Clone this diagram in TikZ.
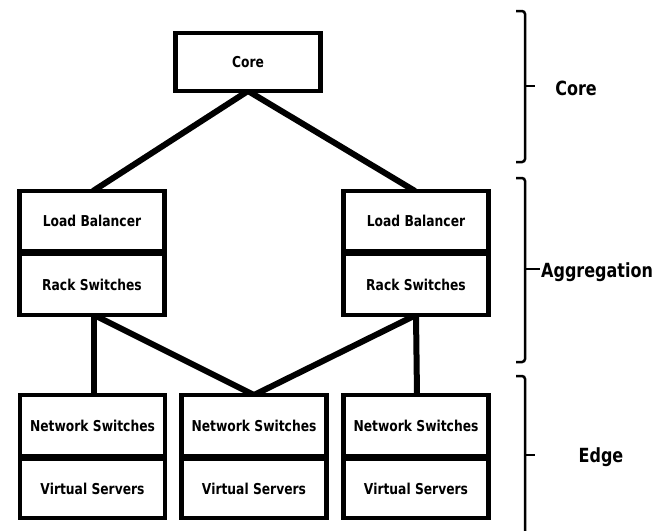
\documentclass[tikz,border=0pt]{standalone}
\usepackage{fontspec}
\setmainfont{DejaVu Sans}[FakeStretch=0.82]
\usetikzlibrary{backgrounds}
\begin{document}
\begin{tikzpicture}[x=1pt,y=-1pt,
  box/.style={draw=black, line width=4.5pt, fill=white, rectangle,
    minimum width=145pt, inner sep=0pt, outer sep=0pt,
    text height=11pt, text depth=0pt,
    font=\fontsize{15}{17}\selectfont\bfseries},
  link/.style={line width=6pt, draw=black},
  brace/.style={line width=2.5pt, draw=black, rounded corners=3pt},
  tier/.style={font=\fontsize{19.5}{22}\selectfont\bfseries, inner sep=0pt}]
\useasboundingbox (0,0) rectangle (669,530);

% core tier
\node[box, minimum height=58pt] (core) at (248,62) {Core};

% aggregation tier
\node[box, minimum height=60pt] (lb1) at (92,221) {Load Balancer};
\node[box, minimum height=61pt] (rs1) at (92,284.5) {Rack Switches};
\node[box, minimum height=60pt] (lb2) at (416,221) {Load Balancer};
\node[box, minimum height=61pt] (rs2) at (416,284.5) {Rack Switches};

% edge tier
\node[box, minimum height=61pt] (ns1) at (92.5,425.5) {Network Switches};
\node[box, minimum height=59pt] (vs1) at (92.5,488.5) {Virtual Servers};
\node[box, minimum height=61pt] (ns2) at (254,425.5) {Network Switches};
\node[box, minimum height=59pt] (vs2) at (254,488.5) {Virtual Servers};
\node[box, minimum height=61pt] (ns3) at (416,425.5) {Network Switches};
\node[box, minimum height=59pt] (vs3) at (416,488.5) {Virtual Servers};

% links between tiers
\begin{scope}[on background layer]
  \draw[link] (core.south) -- ([xshift=1pt]lb1.north);
  \draw[link] (core.south) -- ([xshift=-1pt]lb2.north);
  \draw[link] ([xshift=2pt]rs1.south) -- ([xshift=1.5pt]ns1.north);
  \draw[link] ([xshift=2pt]rs1.south) -- (ns2.north);
  \draw[link] (rs2.south) -- (ns2.north);
  \draw[link] (rs2.south) -- ([xshift=1pt]ns3.north);
\end{scope}

% tier braces
\coordinate (cb) at (525,86);
\draw[brace] (516,11) -- (525,11) -- (525,162) -- (516,162);
\draw[brace, rounded corners=0pt] (cb) -- (535,86);
\node[tier, anchor=base] (lcore) at (576,95) {Core};

\coordinate (ab) at (525,269);
\draw[brace] (516,178) -- (525,178) -- (525,362) -- (516,362);
\draw[brace, rounded corners=0pt] (ab) -- (540,269);
\node[tier, anchor=base west] (lagg) at (541,277) {Aggregation};

\coordinate (eb) at (525,455);
\draw[brace] (516,376) -- (525,376) -- (525,535);
\draw[brace, rounded corners=0pt] (eb) -- (535,455);
\node[tier, anchor=base] (ledge) at (601,462) {Edge};
\end{tikzpicture}
\end{document}
